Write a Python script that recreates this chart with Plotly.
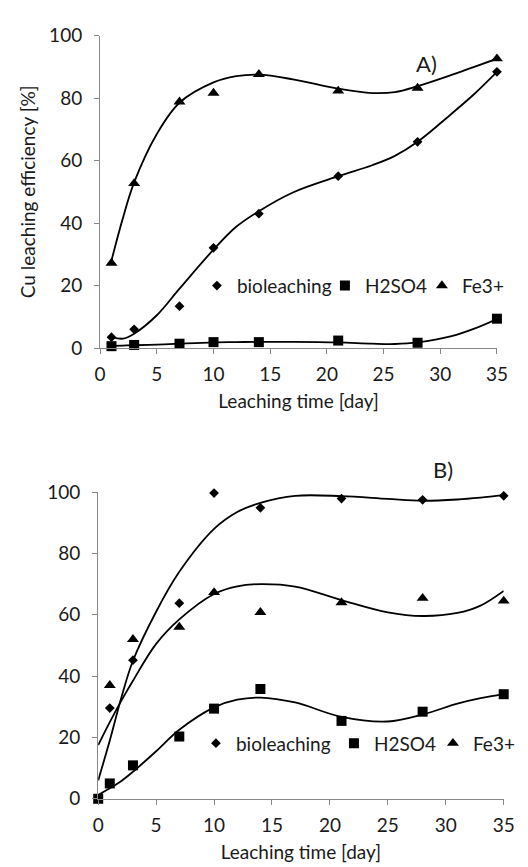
import plotly.graph_objects as go

# ---------------- data ----------------
# Panel A
days_a = [1, 3, 7, 10, 14, 21, 28, 35]
bio_a = [3.5, 6.0, 13.4, 32.1, 43.0, 55.0, 66.0, 88.4]
h2so4_a = [0.6, 1.0, 1.4, 1.9, 1.9, 2.4, 1.7, 9.4]
fe_a = [27.2, 52.7, 78.8, 81.6, 87.6, 82.3, 83.2, 92.6]

# Panel A trendlines (polynomial trendlines as drawn in the picture)
trend_days_a = [1, 2, 3, 5, 7, 10, 12, 14, 17, 21, 24, 26, 28, 31, 33, 35]
bio_trend_a = [3.6, 3.0, 4.6, 10.5, 19.0, 31.5, 38.8, 43.8, 49.8, 55.0, 58.5, 61.5, 66.0, 75.0, 81.3, 88.4]
h2so4_trend_a = [0.7, 0.8, 0.9, 1.1, 1.4, 1.8, 1.9, 2.0, 2.0, 1.8, 1.4, 1.3, 1.8, 3.8, 6.2, 9.3]
fe_trend_a = [28.0, 41.5, 53.0, 68.5, 78.5, 85.0, 87.0, 87.5, 86.0, 83.0, 81.6, 81.9, 83.8, 87.4, 90.0, 92.6]

# Panel B
days_b = [1, 3, 7, 10, 14, 21, 28, 35]
days_b_h2so4 = [0, 1, 3, 7, 10, 14, 21, 28, 35]
bio_b = [29.6, 45.2, 63.8, 99.7, 94.9, 97.9, 97.5, 98.8]
h2so4_b = [0.0, 5.0, 10.9, 20.3, 29.4, 35.8, 25.4, 28.4, 34.1]
fe_b = [37.0, 52.0, 56.0, 67.3, 60.8, 64.0, 65.4, 64.5]

# Panel B trendlines
trend_days_b = [0, 1, 2, 3, 5, 7, 10, 12, 14, 17, 21, 25, 28, 31, 33, 35]
bio_trend_b = [6.0, 19.0, 33.0, 45.0, 61.0, 74.0, 88.0, 93.5, 96.5, 98.8, 98.7, 97.8, 97.2, 97.6, 98.2, 99.0]
h2so4_trend_b = [1.2, 3.4, 5.8, 8.8, 15.5, 22.5, 29.8, 32.3, 33.0, 31.4, 26.7, 25.2, 27.5, 31.0, 32.8, 34.1]
fe_trend_b = [17.5, 25.0, 32.0, 38.5, 50.5, 58.5, 66.8, 69.3, 70.0, 69.2, 64.8, 60.8, 59.6, 60.6, 63.0, 67.8]

series_names = ["bioleaching", "H2SO4", "Fe3+"]
symbols = ["diamond", "square", "triangle-up"]
sizes = [7.5, 10, 10.5]

x_ticks = [0, 5, 10, 15, 20, 25, 30, 35]
y_ticks = [0, 20, 40, 60, 80, 100]

# ---------------- figure ----------------
W, H = 528, 867
FONT = "Lato, 'Open Sans', sans-serif"
FS = 19
TXT = "#1a1a1a"
AX = "#888888"

fig = go.Figure()

def add_panel(xref, yref, legend, days_sets, vals, trend_days, trends, entry_widths):
    for i in range(3):
        fig.add_trace(go.Scatter(
            x=trend_days, y=trends[i], mode="lines",
            line=dict(color="black", width=1.8, shape="spline", smoothing=1.0),
            xaxis=xref, yaxis=yref, showlegend=False, hoverinfo="skip",
            cliponaxis=False,
        ))
    for i in range(3):
        fig.add_trace(go.Scatter(
            x=days_sets[i], y=vals[i], mode="markers", name=series_names[i],
            marker=dict(symbol=symbols[i], size=sizes[i], color="black"),
            xaxis=xref, yaxis=yref, legend=legend, cliponaxis=False,
            legendwidth=entry_widths[i],
        ))

add_panel("x", "y", "legend", [days_a, days_a, days_a], [bio_a, h2so4_a, fe_a],
          trend_days_a, [bio_trend_a, h2so4_trend_a, fe_trend_a], [83, 52, 40])
add_panel("x2", "y2", "legend2", [days_b, days_b_h2so4, days_b], [bio_b, h2so4_b, fe_b],
          trend_days_b, [bio_trend_b, h2so4_trend_b, fe_trend_b], [93, 54, 40])

def px_x(p):
    return p / W

def px_y(p):
    return 1 - p / H

axis_common = dict(
    showline=True, linecolor=AX, linewidth=1.3, showgrid=False, zeroline=False,
    ticks="outside", ticklen=5, tickcolor=AX, tickwidth=1.3,
    tickfont=dict(family=FONT, size=FS, color=TXT),
)

title_font = dict(family=FONT, size=FS, color=TXT)
legend_common = dict(orientation="h", xanchor="left", yanchor="middle",
                     bgcolor="rgba(0,0,0,0)", font=dict(family=FONT, size=FS, color=TXT),
                     itemwidth=30, tracegroupgap=0, entrywidthmode="pixels")

fig.update_layout(
    width=W, height=H,
    margin=dict(l=0, r=0, t=0, b=0),
    paper_bgcolor="white", plot_bgcolor="white",
    font=dict(family=FONT, size=FS, color=TXT),
    xaxis=dict(domain=[px_x(89), px_x(499)], range=[0, 35], tickvals=x_ticks,
               anchor="y", ticklabelstandoff=4,
               title=dict(text="Leaching time [day]", standoff=10, font=title_font),
               **axis_common),
    yaxis=dict(domain=[px_y(337), px_y(16)], range=[0, 100], tickvals=y_ticks,
               anchor="x", ticklabelstandoff=8,
               title=dict(text="Cu leaching efficiency [%]", standoff=8, font=title_font),
               **axis_common),
    xaxis2=dict(domain=[px_x(87), px_x(506)], range=[0, 35], tickvals=x_ticks,
                anchor="y2", ticklabelstandoff=4,
                title=dict(text="Leaching time [day]", standoff=10, font=title_font),
                **axis_common),
    yaxis2=dict(domain=[px_y(800), px_y(485)], range=[0, 100], tickvals=y_ticks,
                anchor="x2", ticklabelstandoff=8, **axis_common),
    legend=dict(x=px_x(189), y=px_y(273), **legend_common),
    legend2=dict(x=px_x(188), y=px_y(743), **legend_common),
    annotations=[
        dict(text="A)", x=px_x(426), y=px_y(45), xref="paper", yref="paper",
             xanchor="center", yanchor="middle",
             showarrow=False, font=dict(family=FONT, size=22, color=TXT)),
        dict(text="B)", x=px_x(443), y=px_y(462), xref="paper", yref="paper",
             xanchor="center", yanchor="middle",
             showarrow=False, font=dict(family=FONT, size=22, color=TXT)),
    ],
)

fig.write_html("out.html")
